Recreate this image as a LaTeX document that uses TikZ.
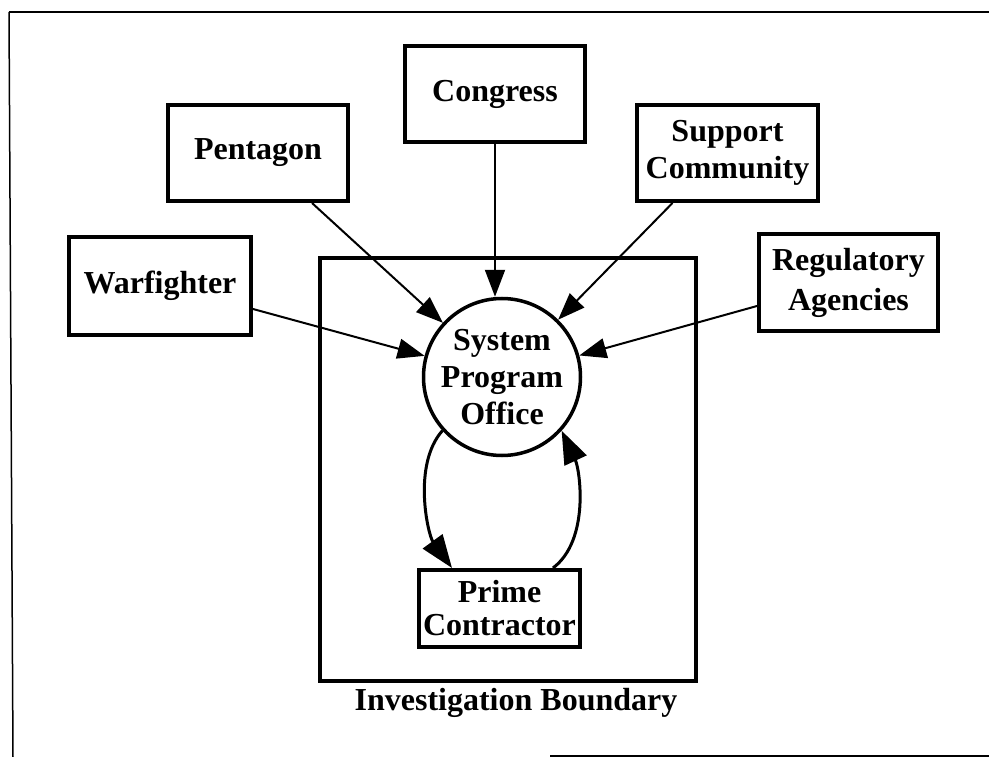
\documentclass[tikz,border=0pt]{standalone}
\usepackage{fontspec}
\setmainfont{Liberation Serif}
\usetikzlibrary{arrows.meta,calc}
\begin{document}
\begin{tikzpicture}[x=1pt,y=-1pt,
  lbl/.style={font=\bfseries\fontsize{32}{37}\selectfont, align=center},
  box/.style={lbl, draw, line width=4pt, inner sep=0pt},
  feed/.style={line width=2pt, -{Triangle[length=27pt,width=20pt]}},
  loopback/.style={line width=3pt, -{Triangle[length=33pt,width=24pt]}},
  pageframe/.style={line width=1.5pt}]
\useasboundingbox (0,0) rectangle (989,757);

% page frame
\draw[pageframe] (9,12) -- (989,12);
\draw[pageframe] (9,12) -- (13,757);
\draw[pageframe] (550,756) -- (989,756);

% investigation boundary
\node[draw, line width=4pt, minimum width=376pt, minimum height=423pt, inner sep=0pt] (bound) at (508,469.5) {};
\node[lbl] (boundlbl) at (516,703) {Investigation Boundary};

% outside stakeholders
\node[box, minimum width=180pt, minimum height=96pt] (cong) at (495,94) {Congress};
\node[box, minimum width=180pt, minimum height=96pt] (pent) at (258,153) {Pentagon};
\node[box, minimum width=181pt, minimum height=96pt] (supp) at (727.5,153) {Support\\Community};
\node[box, minimum width=182pt, minimum height=98pt] (warf) at (160,286) {Warfighter};
\node[box, minimum width=179pt, minimum height=97pt] (regu) at (848.5,282.5) {Regulatory\\[3pt]Agencies};

% inside the boundary
\node[lbl, circle, draw, line width=3.5pt, minimum size=157pt, inner sep=0pt] (spo) at (502,377) {System\\Program\\Office};
\node[box, minimum width=161pt, minimum height=77pt, font=\bfseries\fontsize{32}{33}\selectfont] (prime) at (499.5,608.5) {Prime\\Contractor};

% influences on the program office
\draw[feed] (cong.south) -- (cong.south |- spo.north);
\draw[feed] ([xshift=54pt]pent.south) -- (spo);
\draw[feed] ([xshift=-55pt]supp.south) -- (spo);
\draw[feed] ([yshift=-23pt]warf.east) -- (spo);
\draw[feed] ([yshift=-23.5pt]regu.west) -- (spo);

% program office <-> contractor loop
\draw[loopback] (spo.222) .. controls (412,465) and (428,535) .. ([xshift=-47.5pt]prime.north);
\draw[loopback] ([xshift=53.5pt]prime.north) .. controls (590,540) and (580,470) .. (spo.-42);
\end{tikzpicture}
\end{document}
